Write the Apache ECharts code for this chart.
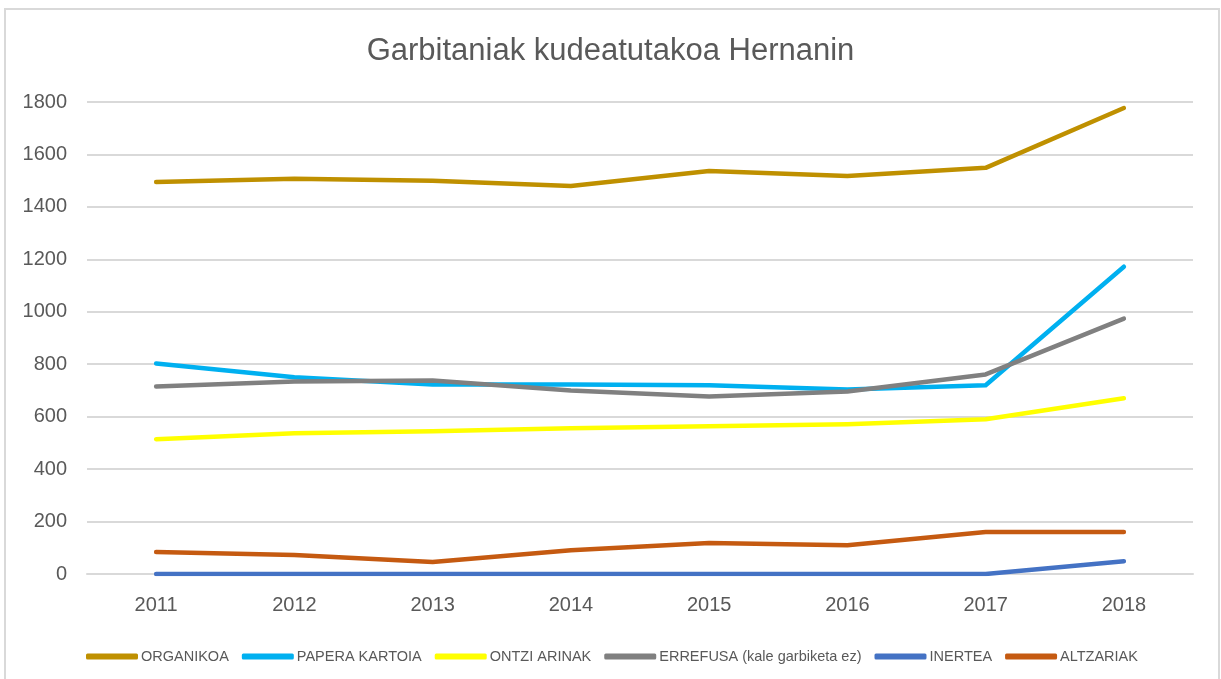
<!DOCTYPE html>
<html lang="eu">
<head>
    <meta charset="UTF-8">
    <script src="https://cdn.jsdelivr.net/npm/echarts@6/dist/echarts.min.js"></script>
    <style>
        body, html { margin: 0; padding: 0; width: 100%; height: 100%; background: #fff; }
        #chart { width: 1221px; height: 679px; }
    </style>
</head>
<body>
    <div id="chart"></div>
    <script>
        // urteak eta serieak (tona)
        const years = ['2011', '2012', '2013', '2014', '2015', '2016', '2017', '2018'];
        const organikoa = [1495, 1507, 1500, 1480, 1537, 1518, 1549, 1777];
        const paperaKartoia = [803, 750, 723, 723, 720, 704, 720, 1172];
        const ontziArinak = [514, 537, 544, 556, 563, 571, 590, 670];
        const errefusa = [715, 734, 738, 700, 677, 696, 761, 974];
        const inertea = [0, 0, 0, 0, 0, 0, 0, 49];
        const altzariak = [84, 72, 46, 91, 118, 110, 160, 160];

        const names = ['ORGANIKOA', 'PAPERA KARTOIA', 'ONTZI ARINAK', 'ERREFUSA (kale garbiketa ez)', 'INERTEA', 'ALTZARIAK'];
        const colors = ['#BF9000', '#00B0F0', '#FFFF00', '#808080', '#4472C4', '#C55A11'];
        const values = [organikoa, paperaKartoia, ontziArinak, errefusa, inertea, altzariak];

        const font = 'Liberation Sans, Arial, sans-serif';

        let chart = echarts.init(document.getElementById('chart'));
        chart.setOption({
            animation: false,
            title: {
                text: 'Garbitaniak kudeatutakoa Hernanin',
                left: 'center',
                top: 31,
                textStyle: { fontFamily: font, fontSize: 31, fontWeight: 'normal', color: '#595959' }
            },
            legend: {
                left: 81,
                top: 644,
                icon: 'roundRect',
                itemWidth: 52,
                itemHeight: 6,
                itemGap: 13,
                textStyle: { fontFamily: font, fontSize: 14.5, color: '#595959', padding: [0, 0, 0, -2] },
                data: names
            },
            grid: { left: 87, right: 28, top: 102, bottom: 105, containLabel: false },
            xAxis: {
                type: 'category',
                data: years,
                boundaryGap: true,
                axisLine: { lineStyle: { color: '#d9d9d9', width: 2 } },
                axisTick: { show: false },
                axisLabel: { fontFamily: font, fontSize: 20, color: '#595959', margin: 21 }
            },
            yAxis: {
                type: 'value',
                min: 0,
                max: 1800,
                interval: 200,
                axisLine: { show: false },
                axisTick: { show: false },
                axisLabel: { fontFamily: font, fontSize: 20, color: '#595959', margin: 20, formatter: v => String(v) },
                splitLine: { lineStyle: { color: '#d9d9d9', width: 2 } }
            },
            graphic: [{
                type: 'rect',
                shape: { x: 5, y: 9, width: 1214, height: 680 },
                style: { fill: 'none', stroke: '#d9d9d9', lineWidth: 2 },
                silent: true
            }],
            series: names.map((n, i) => ({
                name: n,
                type: 'line',
                data: values[i],
                symbol: 'none',
                color: colors[i],
                lineStyle: { width: 4.5, color: colors[i], cap: 'round', join: 'round' }
            }))
        });
    </script>
</body>
</html>
